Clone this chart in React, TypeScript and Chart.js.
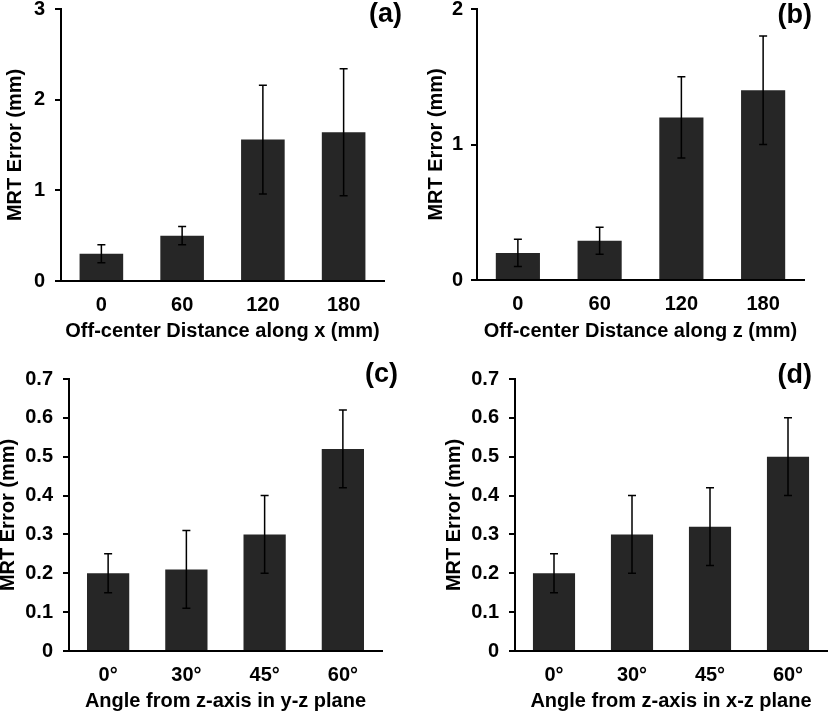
import React, { useEffect, useRef } from 'react';
import { Chart, registerables } from 'chart.js';

Chart.register(...registerables);

// ---------- data ----------
const distanceCategories = ['0', '60', '120', '180'];
const angleCategories = ['0°', '30°', '45°', '60°'];

const errorAlongX = [0.3, 0.5, 1.56, 1.64];
const errorAlongXSd = [0.1, 0.1, 0.6, 0.7];

const errorAlongZ = [0.2, 0.29, 1.2, 1.4];
const errorAlongZSd = [0.1, 0.1, 0.3, 0.4];

const errorYZPlane = [0.2, 0.21, 0.3, 0.52];
const errorYZPlaneSd = [0.05, 0.1, 0.1, 0.1];

const errorXZPlane = [0.2, 0.3, 0.32, 0.5];
const errorXZPlaneSd = [0.05, 0.1, 0.1, 0.1];

const yMaxAlongX = 3;
const yMaxAlongZ = 2;
const yMaxAngle = 0.7;
const yStepDistance = 1;
const yStepAngle = 0.1;

const panelLabels = ['(a)', '(b)', '(c)', '(d)'];
const xTitles = [
  'Off-center Distance along x (mm)',
  'Off-center Distance along z (mm)',
  'Angle from z-axis in y-z plane',
  'Angle from z-axis in x-z plane',
];
const yTitle = 'MRT Error (mm)';

// ---------- layout / style ----------
const FONT = '"Liberation Sans", Arial, Helvetica, sans-serif';
const BAR_COLOR = '#262626';

const panelLayouts = [
  { left: 0, top: 0, w: 414, h: 350, axisLeft: 61, padRight: 30, padTop: 9, xH: 69, yTitlePad: 3, yTickPad: 10, xTitlePad: 7, labelX: 402, labelY: 15 },
  { left: 414, top: 0, w: 414, h: 350, axisLeft: 63, padRight: 24, padTop: 9, xH: 70, yTitlePad: 10, yTickPad: 8, xTitlePad: 7, labelX: 398, labelY: 15.5 },
  { left: 0, top: 350, w: 414, h: 363, axisLeft: 69, padRight: 32, padTop: 29, xH: 62, yTitlePad: -4, yTickPad: 10, xTitlePad: 0, labelX: 398, labelY: 25 },
  { left: 414, top: 350, w: 414, h: 363, axisLeft: 101, padRight: 1, padTop: 29, xH: 62, yTitlePad: 28, yTickPad: 10, xTitlePad: 0, labelX: 398, labelY: 25.5 },
];

const panels = [
  { categories: distanceCategories, values: errorAlongX, errors: errorAlongXSd, yMax: yMaxAlongX, step: yStepDistance },
  { categories: distanceCategories, values: errorAlongZ, errors: errorAlongZSd, yMax: yMaxAlongZ, step: yStepDistance },
  { categories: angleCategories, values: errorYZPlane, errors: errorYZPlaneSd, yMax: yMaxAngle, step: yStepAngle },
  { categories: angleCategories, values: errorXZPlane, errors: errorXZPlaneSd, yMax: yMaxAngle, step: yStepAngle },
];

const errorBarPlugin = {
  id: 'errorBars',
  afterDatasetsDraw(chart: any, _args: any, opts: any) {
    const errs: number[] = opts.errors || [];
    const meta = chart.getDatasetMeta(0);
    const yScale = chart.scales.y;
    const vals = chart.data.datasets[0].data as number[];
    const ctx = chart.ctx;
    ctx.save();
    ctx.strokeStyle = '#000';
    ctx.lineWidth = 1.5;
    meta.data.forEach((bar: any, i: number) => {
      const v = vals[i];
      const e = errs[i];
      if (e == null) return;
      const x = bar.x;
      const yHi = yScale.getPixelForValue(v + e);
      const yLo = yScale.getPixelForValue(v - e);
      const cap = 4;
      ctx.beginPath();
      ctx.moveTo(x, yHi);
      ctx.lineTo(x, yLo);
      ctx.moveTo(x - cap, yHi);
      ctx.lineTo(x + cap, yHi);
      ctx.moveTo(x - cap, yLo);
      ctx.lineTo(x + cap, yLo);
      ctx.stroke();
    });
    ctx.restore();
  },
};

const panelLabelPlugin = {
  id: 'panelLabel',
  afterDraw(chart: any, _args: any, opts: any) {
    const ctx = chart.ctx;
    ctx.save();
    ctx.font = `bold 27px ${FONT}`;
    ctx.textAlign = 'right';
    ctx.textBaseline = 'middle';
    ctx.fillStyle = '#000';
    ctx.fillText(opts.text, opts.x, opts.y);
    ctx.restore();
  },
};

function Panel({ index }: { index: number }) {
  const ref = useRef<HTMLCanvasElement | null>(null);
  const L = panelLayouts[index];
  const P = panels[index];

  useEffect(() => {
    if (!ref.current) return;
    const chart = new Chart(ref.current, {
      type: 'bar',
      data: {
        labels: P.categories,
        datasets: [
          {
            data: P.values,
            backgroundColor: BAR_COLOR,
            borderWidth: 0,
            barPercentage: 0.54,
            categoryPercentage: 1,
          },
        ],
      },
      plugins: [errorBarPlugin, panelLabelPlugin],
      options: {
        animation: false,
        responsive: false,
        devicePixelRatio: 1,
        layout: {
          autoPadding: false,
          padding: { left: 0, top: L.padTop, right: L.padRight, bottom: 0 },
        },
        plugins: {
          legend: { display: false },
          tooltip: { enabled: false },
          errorBars: { errors: P.errors },
          panelLabel: { text: panelLabels[index], x: L.labelX, y: L.labelY },
        } as any,
        scales: {
          x: {
            grid: { display: false, drawTicks: false },
            border: { display: true, color: '#000', width: 2 },
            ticks: {
              color: '#000',
              padding: 12,
              font: { family: FONT, size: 20, weight: 'bold' },
            },
            title: {
              display: true,
              text: xTitles[index],
              color: '#000',
              font: { family: FONT, size: 20, weight: 'bold' },
              padding: { top: 0, bottom: L.xTitlePad },
            },
            afterFit: (s: any) => {
              s.height = L.xH;
              s.paddingLeft = 0;
              s.paddingRight = 0;
            },
          },
          y: {
            min: 0,
            max: P.yMax,
            grid: {
              display: true,
              drawOnChartArea: false,
              drawTicks: true,
              tickLength: 6,
              color: '#000',
              lineWidth: 2,
            },
            border: { display: true, color: '#000', width: 2 },
            ticks: {
              stepSize: P.step,
              color: '#000',
              padding: L.yTickPad,
              font: { family: FONT, size: 20, weight: 'bold' },
              callback: (v: any) => String(parseFloat(Number(v).toFixed(1))),
            },
            title: {
              display: true,
              text: yTitle,
              color: '#000',
              font: { family: FONT, size: 20, weight: 'bold' },
              padding: { top: L.yTitlePad, bottom: 0 },
            },
            afterFit: (s: any) => {
              s.width = L.axisLeft;
              s.paddingTop = 0;
              s.paddingBottom = 0;
            },
          },
        },
      },
    });
    return () => chart.destroy();
  }, [index]);

  return (
    <canvas
      ref={ref}
      width={L.w}
      height={L.h}
      style={{ position: 'absolute', left: L.left, top: L.top, width: L.w, height: L.h, display: 'block' }}
    />
  );
}

export default function App() {
  return (
    <div style={{ position: 'absolute', left: 0, top: 0, width: 828, height: 713, background: '#fff', overflow: 'hidden' }}>
      {[0, 1, 2, 3].map((i) => (
        <Panel key={i} index={i} />
      ))}
    </div>
  );
}
